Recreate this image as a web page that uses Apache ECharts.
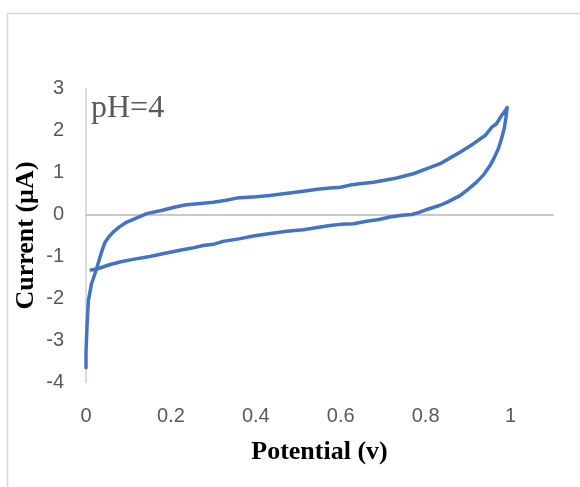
<!DOCTYPE html>
<html>
<head>
<meta charset="utf-8">
<script src="https://cdn.jsdelivr.net/npm/echarts@6/dist/echarts.min.js"></script>
<style>html,body{margin:0;padding:0;background:#fff}#c{width:580px;height:487px}</style>
</head>
<body>
<div id="c"></div>
<script>
// Potential (V) and current (µA), in drawing order
const potential = [
  0.012, 0.025, 0.04, 0.057, 0.08, 0.104, 0.15, 0.198, 0.221, 0.25, 0.276, 0.30, 0.323, 0.36, 0.394,
  0.43, 0.473, 0.512, 0.545, 0.575, 0.60, 0.63, 0.661, 0.69, 0.716, 0.745, 0.767, 0.785, 0.803, 0.834,
  0.85, 0.881, 0.90, 0.92, 0.937, 0.952, 0.962, 0.971, 0.978, 0.985, 0.989, 0.992,
  0.986, 0.979, 0.967, 0.956, 0.94, 0.912, 0.881, 0.86, 0.834, 0.80, 0.771, 0.732, 0.70, 0.677, 0.65,
  0.622, 0.60, 0.575, 0.545, 0.512, 0.47, 0.433, 0.40, 0.355, 0.33, 0.30, 0.27, 0.237, 0.21, 0.18,
  0.143, 0.12, 0.096, 0.078, 0.064, 0.054, 0.045, 0.038, 0.033, 0.024, 0.013, 0.0055, 0.003, 0.001,
  0.0, 0.0
];
const current = [
  -1.32, -1.30, -1.25, -1.19, -1.13, -1.08, -1.0, -0.90, -0.85, -0.80, -0.74, -0.71, -0.64, -0.58, -0.51,
  -0.46, -0.40, -0.365, -0.31, -0.26, -0.235, -0.22, -0.16, -0.12, -0.06, -0.02, 0.0, 0.05, 0.12, 0.22,
  0.29, 0.45, 0.60, 0.77, 0.95, 1.17, 1.36, 1.56, 1.78, 2.04, 2.30, 2.55,
  2.45, 2.36, 2.16, 2.08, 1.88, 1.68, 1.48, 1.36, 1.21, 1.08, 0.97, 0.87, 0.81, 0.77, 0.74,
  0.70, 0.65, 0.63, 0.60, 0.555, 0.50, 0.45, 0.42, 0.39, 0.34, 0.29, 0.26, 0.23, 0.18, 0.10,
  0.02, -0.08, -0.18, -0.30, -0.42, -0.53, -0.66, -0.85, -1.02, -1.32, -1.65, -2.05, -2.52, -3.0,
  -3.3, -3.65
];
const xTicks = [0, 0.2, 0.4, 0.6, 0.8, 1];
const yTicks = [-4, -3, -2, -1, 0, 1, 2, 3];
const annotation = 'pH=4';
const xName = 'Potential (v)';
const yName = 'Current (µA)';

const points = potential.map((p, i) => [p, current[i]]);
const chart = echarts.init(document.getElementById('c'), null, {renderer: 'canvas'});
const tickFont = {color: '#595959', fontFamily: 'Liberation Sans', fontSize: 20};
chart.setOption({
  animation: false,
  backgroundColor: '#fff',
  grid: {left: 86, right: 27, top: 88.5, bottom: 104.5, containLabel: false},
  xAxis: [{
    type: 'value', min: 0, max: 1.1, interval: 0.2, position: 'bottom',
    axisLine: {show: false, onZero: false},
    axisTick: {show: false}, splitLine: {show: false},
    axisLabel: Object.assign({margin: 24, formatter: v => {
      const hit = xTicks.find(t => Math.abs(t - v) < 1e-6);
      return hit === undefined ? '' : String(hit);
    }}, tickFont),
    name: xName, nameLocation: 'middle', nameGap: 57,
    nameTextStyle: {fontFamily: 'Liberation Serif', fontWeight: 'bold', fontSize: 26, color: '#000'}
  }, {
    type: 'value', min: 0, max: 1.1, position: 'bottom',
    axisLine: {show: true, onZero: true, lineStyle: {color: '#c9c9c9', width: 2}},
    axisTick: {show: false}, axisLabel: {show: false}, splitLine: {show: false}
  }],
  yAxis: {
    type: 'value', min: yTicks[0], max: yTicks[yTicks.length - 1], interval: 1,
    axisLine: {show: true, onZero: false, lineStyle: {color: '#d0d0d0', width: 1.5}},
    axisTick: {show: false}, splitLine: {show: false},
    axisLabel: Object.assign({margin: 22}, tickFont),
    name: yName, nameLocation: 'middle', nameGap: 47, nameMoveOverlap: false,
    nameTextStyle: {fontFamily: 'Liberation Serif', fontWeight: 'bold', fontSize: 26, color: '#000'}
  },
  series: [{
    type: 'line', xAxisIndex: 0, yAxisIndex: 0, data: points,
    showSymbol: false, smooth: false,
    lineStyle: {color: '#4472C4', width: 3.5, cap: 'round', join: 'round'}, itemStyle: {color: '#4472C4'}
  }],
  graphic: [
    {type: 'rect', silent: true, z: -10, shape: {x: 7.5, y: 13.5, width: 620, height: 520},
     style: {fill: 'none', stroke: '#d9d9d9', lineWidth: 1.5}},
    {type: 'text', left: 91, top: 93, silent: true,
     style: {text: annotation, font: '32px "Liberation Serif"', fill: '#595959'}}
  ]
});
</script>
</body>
</html>
